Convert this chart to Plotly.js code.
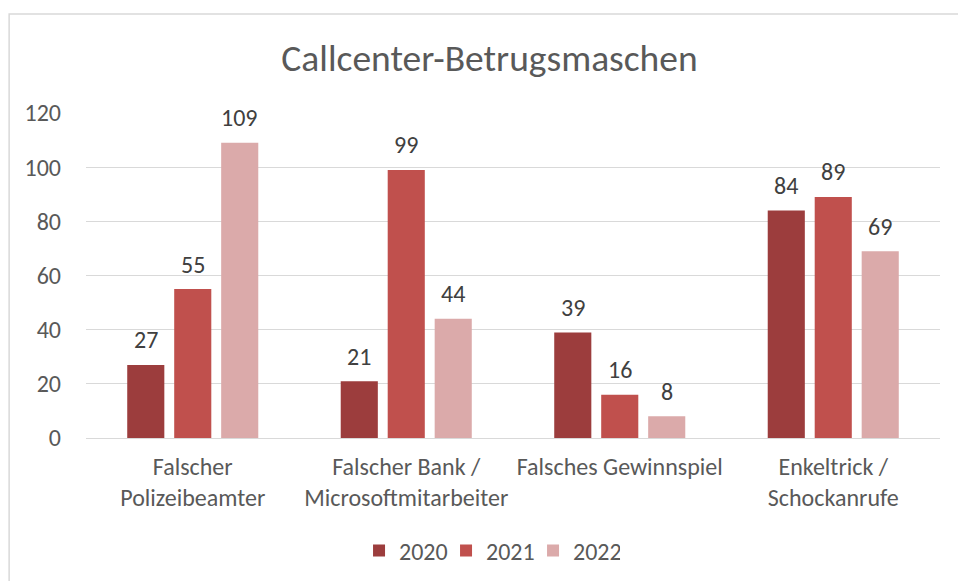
<!DOCTYPE html>
<html>
<head>
<meta charset="utf-8">
<script src="https://cdn.plot.ly/plotly-3.0.1.min.js"></script>
<style>html,body{margin:0;padding:0;background:#fff}#chart{width:958px;height:581px}</style>
</head>
<body>
<div id="chart"></div>
<script>
const categories = ["Falscher<br>Polizeibeamter", "Falscher Bank /<br>Microsoftmitarbeiter", "Falsches Gewinnspiel", "Enkeltrick /<br>Schockanrufe"];
const seriesNames = ["2020", "2021", "2022"];
const values2020 = [27, 21, 39, 84];
const values2021 = [55, 99, 16, 89];
const values2022 = [109, 44, 8, 69];
const colors = ["#9C3D3D", "#C0504D", "#DBAAAA"];
const yTicks = [0, 20, 40, 60, 80, 100, 120];

const FONT = "Carlito, 'Liberation Sans Narrow', 'Open Sans', sans-serif";
const W = 958, H = 581;
const M = {l: 86, r: 18, t: 113, b: 143};
const BARGAP = 0.34, GROUPGAP = 0.21;
const allVals = [values2020, values2021, values2022];

const traces = allVals.map((v, i) => ({
  type: "bar",
  name: seriesNames[i],
  x: categories,
  y: v,
  marker: {color: colors[i]},
  hoverinfo: "none"
}));

// data labels as annotations, horizontally offset to each bar's slot
const plotW = W - M.l - M.r;
const slot = plotW / categories.length * (1 - BARGAP) / allVals.length;
const annotations = [];
allVals.forEach((v, i) => {
  v.forEach((val, j) => {
    annotations.push({
      x: categories[j], y: val, xref: "x", yref: "y",
      text: String(val), showarrow: false,
      xshift: (i - (allVals.length - 1) / 2) * slot,
      yshift: 25, yanchor: "middle", xanchor: "center",
      font: {family: FONT, size: 24, color: "#404040"}
    });
  });
});

const layout = {
  width: W, height: H,
  margin: M,
  paper_bgcolor: "#fff", plot_bgcolor: "#fff",
  font: {family: FONT, color: "#595959", size: 24},
  title: {text: "Callcenter-Betrugsmaschen", font: {family: FONT, size: 37.5, color: "#595959"}, x: 0.511, xanchor: "center", y: 0.9, yanchor: "middle"},
  barmode: "group",
  bargap: BARGAP,
  bargroupgap: GROUPGAP,
  xaxis: {type: "category", automargin: false, tickfont: {size: 24, color: "#595959"}, showgrid: false, showline: false, ticks: "", ticklabelstandoff: 12, fixedrange: true},
  yaxis: {range: [0, 120], automargin: false, tickvals: yTicks, ticktext: yTicks.map(String), showgrid: true, gridcolor: "#D9D9D9", gridwidth: 1, zeroline: true, zerolinecolor: "#D9D9D9", zerolinewidth: 1, showline: false, ticks: "", ticklabelstandoff: 24, tickfont: {size: 24, color: "#595959"}},
  showlegend: true,
  legend: {orientation: "h", xref: "container", yref: "container", x: 0.511, xanchor: "center", y: 0.052, yanchor: "middle", font: {size: 24, color: "#595959"}, itemwidth: 30, entrywidth: 42, entrywidthmode: "pixels", traceorder: "normal"},
  annotations: annotations,
  shapes: [{type: "rect", xref: "paper", yref: "paper", x0: -0.09, x1: 1.2, y0: -0.5, y1: 1.305, line: {color: "#D9D9D9", width: 1.5}, fillcolor: "rgba(0,0,0,0)", layer: "below"}]
};

Plotly.newPlot("chart", traces, layout, {displayModeBar: false, staticPlot: true});
</script>
</body>
</html>
